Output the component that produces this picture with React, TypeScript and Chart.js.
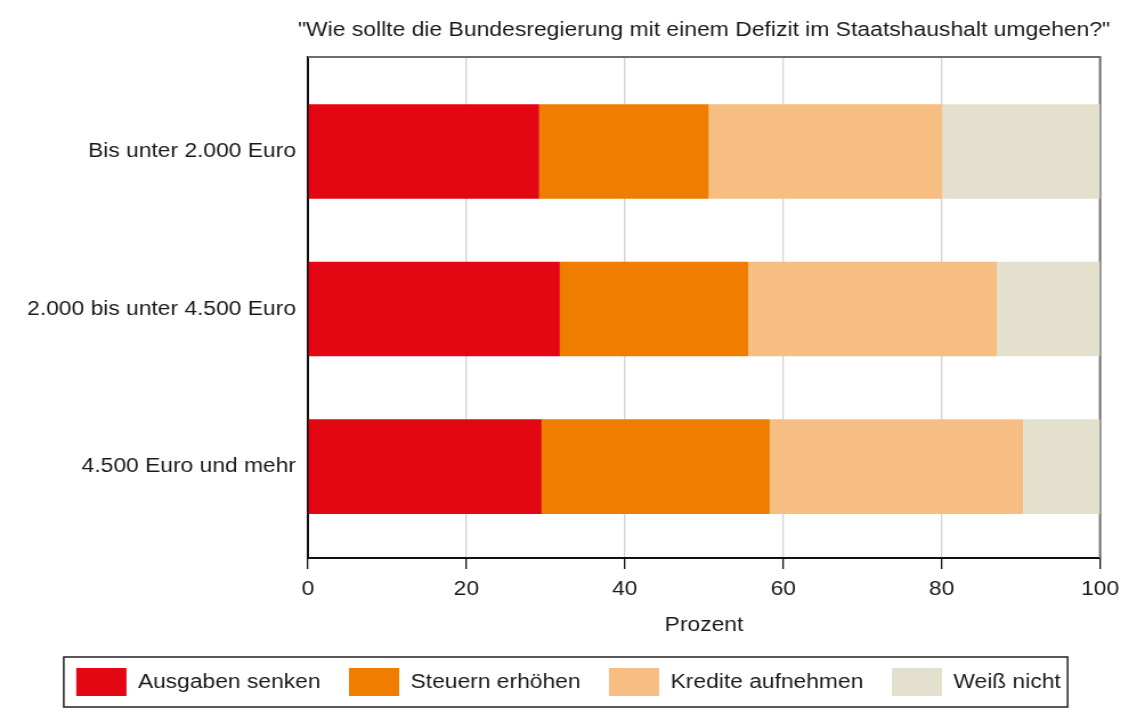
import React, { useEffect, useRef } from 'react';
import { Chart, registerables } from 'chart.js';

Chart.register(...registerables);

const categories = ['Bis unter 2.000 Euro', '2.000 bis unter 4.500 Euro', '4.500 Euro und mehr'];
const seriesNames = ['Ausgaben senken', 'Steuern erhöhen', 'Kredite aufnehmen', 'Weiß nicht'];
const ausgabenSenken = [29.2, 31.8, 29.5];
const steuernErhoehen = [21.4, 23.8, 28.8];
const krediteAufnehmen = [29.5, 31.4, 32.0];
const weissNicht = [19.9, 13.0, 9.7];
const seriesColors = ['#E30613', '#EF7D00', '#F7BE84', '#E3E1CD'];
const xTickStep = 20;
const xMin = 0;
const xMax = 100;
const titleText = '"Wie sollte die Bundesregierung mit einem Defizit im Staatshaushalt umgehen?"';
const xTitle = 'Prozent';

// Drawn at a narrower logical width and stretched horizontally, like the reference
const LOGICAL_W = 997;
const H = 716;
const CSS_W = 1137;

export default function App() {
  const ref = useRef<HTMLCanvasElement>(null);

  useEffect(() => {
    document.body.style.margin = '0';
    const canvas = ref.current;
    if (!canvas) return;
    const family = "'Liberation Sans', Arial, Helvetica, sans-serif";
    const textColor = '#1a1a1a';
    const font = { family, size: 20, weight: 'normal' as const };

    const frame = {
      id: 'frame',
      beforeDatasetsDraw(chart: any) {
        const { ctx, chartArea } = chart;
        const { left, right, top, bottom } = chartArea;
        ctx.save();
        ctx.strokeStyle = '#6e6e6e';
        ctx.lineWidth = 2;
        ctx.beginPath();
        ctx.moveTo(left, top);
        ctx.lineTo(right, top);
        ctx.lineTo(right, bottom);
        ctx.stroke();
        ctx.restore();
      },
    };

    // Title centred over the plot area (may extend slightly beyond it, as in the reference)
    const centeredTitle = {
      id: 'centeredTitle',
      afterDraw(chart: any) {
        const { ctx, chartArea } = chart;
        ctx.save();
        ctx.font = `normal 20.1px ${family}`;
        ctx.fillStyle = textColor;
        ctx.textAlign = 'center';
        ctx.textBaseline = 'middle';
        ctx.fillText(titleText, (chartArea.left + chartArea.right) / 2, 30);
        ctx.restore();
      },
    };

    const legendBorder = {
      id: 'legendBorder',
      afterDraw(chart: any) {
        const boxes = chart.legend && chart.legend.legendHitBoxes;
        if (!boxes || !boxes.length) return;
        const first = boxes[0];
        const last = boxes[boxes.length - 1];
        const l = first.left - 11;
        const r = last.left + last.width + 6;
        const t = first.top - 11;
        const b = first.top + first.height + 11;
        const ctx = chart.ctx;
        ctx.save();
        ctx.strokeStyle = '#222';
        ctx.lineWidth = 1.5;
        ctx.strokeRect(l, t, r - l, b - t);
        ctx.restore();
      },
    };

    const series = [ausgabenSenken, steuernErhoehen, krediteAufnehmen, weissNicht];

    const chart = new Chart(canvas, {
      type: 'bar',
      data: {
        datasets: series.map((vals, si) => ({
          label: seriesNames[si],
          data: vals.map((v, i) => ({ x: v, y: i })),
          backgroundColor: seriesColors[si],
          borderWidth: 0,
          categoryPercentage: 0.6,
          barPercentage: 1,
        })),
      },
      options: {
        indexAxis: 'y',
        responsive: false,
        animation: false,
        devicePixelRatio: 1,
        layout: { padding: { left: 0, right: 0, top: 57, bottom: 10 } },
        scales: {
          x: {
            type: 'linear',
            stacked: true,
            min: xMin,
            max: xMax,
            ticks: { stepSize: xTickStep, font, color: textColor, padding: 8 },
            grid: {
              color: (c: any) => (c.tick && c.tick.value === xMin ? 'rgba(0,0,0,0)' : '#d2d2d2'),
              lineWidth: 1.3,
              drawTicks: true,
              tickLength: 11,
              tickColor: '#111',
              tickWidth: 1.3,
            },
            border: { display: true, color: '#111', width: 2 },
            title: { display: true, text: xTitle, font, color: textColor, padding: { top: 4, bottom: 6 } },
            afterFit: (s: any) => {
              s.height = 85;
              s.paddingRight = 32.4;
            },
          },
          y: {
            type: 'linear',
            stacked: true,
            reverse: true,
            offset: false,
            bounds: 'data',
            min: -0.6,
            max: 2.58,
            afterBuildTicks: (s: any) => {
              s.ticks = categories.map((_, i) => ({ value: i }));
            },
            ticks: {
              callback: (v: any) => categories[v] ?? '',
              font,
              color: textColor,
              padding: 10.5,
            },
            grid: { display: false, drawTicks: false, offset: false },
            border: { display: true, color: '#111', width: 2 },
            afterFit: (s: any) => {
              s.width = 270;
            },
          },
        },
        plugins: {
          title: { display: false },
          legend: {
            position: 'bottom',
            labels: { boxWidth: 44, boxHeight: 28, padding: 25, font, color: textColor },
          },
          tooltip: { enabled: false },
        },
      } as any,
      plugins: [frame, centeredTitle, legendBorder],
    });

    return () => {
      chart.destroy();
    };
  }, []);

  return (
    <canvas
      ref={ref}
      width={LOGICAL_W}
      height={H}
      style={{ width: `${CSS_W}px`, height: `${H}px`, display: 'block' }}
    />
  );
}
